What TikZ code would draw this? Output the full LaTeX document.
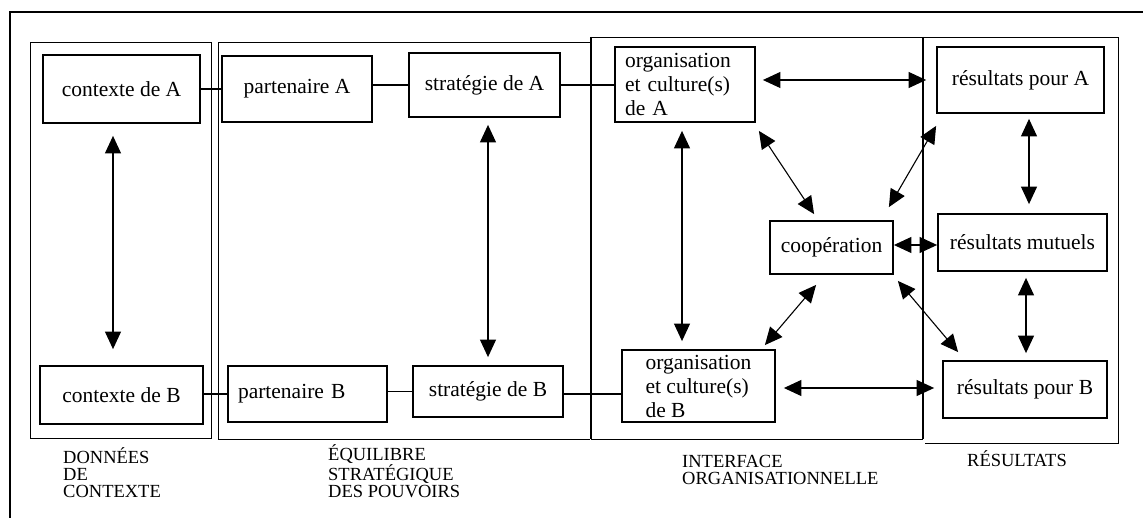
\documentclass[tikz,border=0pt]{standalone}
\usepackage{fontspec}
\setmainfont{Liberation Serif}
\usetikzlibrary{arrows.meta}
\newcommand\bxfont{\fontsize{21.5}{24}\selectfont}
\newcommand\cpfont{\fontsize{18.5}{17}\selectfont}
\begin{document}
\begin{tikzpicture}[x=1pt,y=-1pt,
  box/.style={draw, line width=1.8pt, inner sep=0pt, font=\bxfont, align=center,
    execute at begin node={\hyphenpenalty=10000 \exhyphenpenalty=10000}},
  pline/.style={line width=0.9pt},
  pthick/.style={line width=2pt},
  frame/.style={line width=1.3pt},
  link/.style={line width=1.8pt},
  tipp/.tip={Triangle[length=17.5pt,width=16pt]},
  dbl/.style={tipp-tipp, line width=1.1pt},
  caps/.style={font=\cpfont, align=left, inner sep=0pt}]
\useasboundingbox (0,0) rectangle (1143,518);

% outer frame (top and left edges)
\draw[frame] (1143,12) -- (10,12) -- (10,518);

% column panels
\draw[pline] (30,42) rectangle (211,438);
\draw[pline] (590,42) -- (218,42) -- (218,439) -- (590,439);
\draw[pline] (591,37) -- (923,37);
\draw[pline] (591,439) -- (923,439);
\draw[pthick] (591,37) -- (591,439);
\draw[pthick] (923,37) -- (923,439);
\draw[pline] (923,37) -- (1118,37) -- (1118,443) -- (925,443);

% boxes, row A
\node[box, minimum width=157pt, minimum height=68pt] (cA) at (121.5,89) {contexte de A};
\node[box, minimum width=150pt, minimum height=66pt] (pA) at (297,89) {partenaire A};
\node[box, minimum width=151pt, minimum height=64pt] (sA) at (484.5,85) {stratégie de A};
\node[box, minimum width=140pt, minimum height=75pt, align=left, text width=120pt, inner xsep=10pt] (oA) at (685,84.5) {organisation\\et culture(s)\\de A};
\node[box, minimum width=167pt, minimum height=66pt] (rA) at (1020.5,80) {résultats pour A};

% middle
\node[box, minimum width=123pt, minimum height=53pt] (coop) at (831.5,247.5) {coopération};
\node[box, minimum width=169pt, minimum height=57pt] (rM) at (1022.5,242.5) {résultats mutuels};

% boxes, row B
\node[box, minimum width=163pt, minimum height=58pt] (cB) at (121.5,395) {contexte de B};
\node[box, minimum width=159pt, minimum height=56pt, align=left, text width=139pt, inner xsep=10pt] (pB) at (307.5,394) {partenaire B};
\node[box, minimum width=150pt, minimum height=51pt] (sB) at (488,391.5) {stratégie de B};
\node[box, minimum width=153pt, minimum height=72pt, align=left] (oB) at (698.5,386) {organisation\\et culture(s)\\de B};
\node[box, minimum width=164pt, minimum height=57pt] (rB) at (1025,389.5) {résultats pour B};

% plain links
\draw[link] (cA.east) -- (pA.west);
\draw[link] (pA.east |- sA.west) -- (sA.west);
\draw[link] (sA.east) -- (sA.east -| oA.west);
\draw[link] ([yshift=1pt]cB.east) -- ([yshift=1pt]cB.east -| pB.west);
\draw[link] (pB.east |- sB.west) -- (sB.west);
\draw[link] ([yshift=-2.5pt]sB.east) -- ([yshift=-2.5pt]sB.east -| oB.west);

% vertical double arrows
\draw[dbl] ([xshift=-8.5pt,yshift=-12pt]cA.south) -- ([xshift=-8.5pt,yshift=16pt]cB.north);
\draw[dbl] ([xshift=3.5pt,yshift=-7pt]sA.south) -- ([yshift=8pt]sB.north);
\draw[dbl] ([xshift=-3pt,yshift=-8pt]oA.south) -- ([xshift=-16.5pt,yshift=8pt]oB.north);
\draw[dbl] ([xshift=8.5pt,yshift=-5pt]rA.south) -- ([xshift=6.5pt,yshift=9pt]rM.north);
\draw[dbl] ([xshift=3.5pt,yshift=-6pt]rM.south) -- ([xshift=1pt,yshift=7pt]rB.north);

% horizontal double arrows
\draw[dbl] ([xshift=7pt,yshift=4.5pt]oA.east) -- ([xshift=-10pt]rA.west);
\draw[dbl] ([xshift=8pt,yshift=-2pt]oB.east) -- ([xshift=-8pt,yshift=1.5pt]rB.west);
\draw[dbl] ([yshift=2.5pt]coop.east) -- ([yshift=-2.5pt]rM.west);

% diagonal double arrows around cooperation
\draw[dbl] ([xshift=3pt,yshift=-8pt]oA.south east) -- ([xshift=45pt,yshift=6pt]coop.north west);
\draw[dbl] ([yshift=-12pt]rA.south west) -- ([xshift=-5pt,yshift=13pt]coop.north east);
\draw[dbl] ([xshift=47pt,yshift=-10pt]coop.south west) -- ([xshift=-11pt,yshift=4pt]oB.north east);
\draw[dbl] ([xshift=4pt,yshift=-6pt]coop.south east) -- ([xshift=16pt,yshift=8pt]rB.north west);

% column captions (anchored on the baseline of their last line)
\node[caps, anchor=base west] (l1) at (63,497) {DONNÉES\\DE\\CONTEXTE};
\node[caps, anchor=base west] (l2) at (328,497) {ÉQUILIBRE\\STRATÉGIQUE\\DES POUVOIRS};
\node[caps, anchor=base west] (l3) at (682,484) {INTERFACE\\ORGANISATIONNELLE};
\node[caps, anchor=base west] (l4) at (967,466) {RÉSULTATS};
\end{tikzpicture}
\end{document}
